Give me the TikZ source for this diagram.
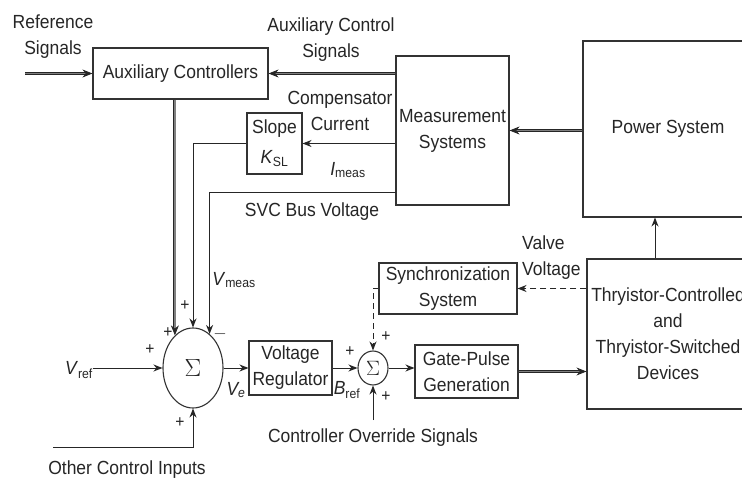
\documentclass[tikz,border=0pt]{standalone}
\usepackage{fontspec}
\setmainfont[FakeStretch=0.92]{Liberation Sans}
\usetikzlibrary{arrows.meta,shapes.geometric,calc}
\begin{document}
\begin{tikzpicture}[x=1pt,y=-1pt,
  every node/.style={text=black!85},
  font=\fontsize{19}{26}\selectfont,
  box/.style={draw=black!80, line width=1.1pt, inner sep=1pt, align=center},
  sumnode/.style={draw=black!80, line width=1.1pt, ellipse, inner sep=0pt},
  sig/.style={draw=black!85, line width=1pt, -{Stealth[length=9pt,width=7pt]}},
  dsig/.style={draw=black!85, line width=0.8pt, double=black!50, double distance=1.6pt, -{Stealth[length=10pt,width=8pt]}},
  dsh/.style={sig, dashed, dash pattern=on 6pt off 4pt},
  pm/.style={font=\fontsize{17}{17}\selectfont, inner sep=0pt},
  lbl/.style={align=center, inner sep=0pt}
]
\useasboundingbox[fill=white] (0,0) rectangle (742,481);

% blocks
\node[box, minimum width=175pt, minimum height=51pt] (aux) at (180.5,73.5) {Auxiliary Controllers};
\node[box, minimum width=55pt, minimum height=61pt, font=\fontsize{19}{30}\selectfont] (slope) at (274.5,143.5) {Slope\\\textit{K}\textsubscript{SL}};
\node[box, minimum width=113pt, minimum height=149pt] (meas) at (452.5,130.5) {Measurement\\Systems};
\node[box, minimum width=170pt, minimum height=176pt] (power) at (668,129) {Power System};
\node[box, minimum width=83pt, minimum height=54pt, inner sep=0pt] (vr) at (290.5,368) {Voltage\\Regulator};
\node[box, minimum width=138pt, minimum height=51pt, inner sep=0pt] (sync) at (448,288.5) {Synchronization\\System};
\node[box, minimum width=103pt, minimum height=53pt] (gate) at (466.5,371.5) {Gate-Pulse\\Generation};
\node[box, minimum width=162pt, minimum height=150pt] (thy) at (668,334) {Thryistor-Controlled\\and\\Thryistor-Switched\\Devices};
\node[sumnode, minimum width=60pt, minimum height=80pt, font=\fontsize{26}{26}\selectfont] (sum) at (193,368) {$\Sigma$};
\node[sumnode, minimum width=30pt, minimum height=34pt, font=\fontsize{22}{22}\selectfont] (sumb) at (373,368) {$\Sigma$};

% free ends
\coordinate (refin) at (25,73.5);
\coordinate (svcpt) at (396,193);
\coordinate (oci) at (53,447);
\coordinate (ovr) at (373,420);

% texts
\node[lbl] (reftxt) at (53,37) {Reference\\Signals};
\node[lbl] (acs) at (331,40) {Auxiliary Control\\Signals};
\node[lbl] (cc) at (340,111) {Compensator\\Current};
\node[lbl] (imeas) at (348,170) {\textit{I}\textsubscript{meas}};
\node[lbl] (svc) at (312,212) {SVC Bus Voltage};
\node[lbl] (vmeas) at (234,280) {\textit{V}\textsubscript{meas}};
\node[lbl, align=left, anchor=west] (valve) at (522,258) {Valve\\Voltage};
\node[lbl] (vref) at (79,370) {\textit{V}\textsubscript{ref}};
\node[lbl] (ve) at (236,390) {\textit{V\textsubscript{e}}};
\node[lbl] (bref) at (347,390) {\textit{B}\textsubscript{ref}};
\node[lbl] (oct) at (127,470) {Other Control Inputs};
\node[lbl] (cos) at (373,438) {Controller Override Signals};

% signs
\node[pm] (p1) at (185,306) {+};
\node[pm] (p2) at (168,333) {+};
\node[pm] (m1) at (220,334) {$-$};
\node[pm] (p3) at (150,350) {+};
\node[pm] (p4) at (180,423) {+};
\node[pm] (p5) at (350,352) {+};
\node[pm] (p6) at (386,337) {+};
\node[pm] (p7) at (386,397) {+};

% connectors
\draw[dsig] (refin) -- (aux.west);
\draw[dsig] (aux.east -| meas.west) -- (aux.east);
\draw[dsig] (meas.east -| power.west) -- (meas.east);
\draw[sig] (slope.east -| meas.west) -- (slope.east);
\draw[sig] (slope.west) -| (sum.north);
\draw[dsig] (sum.119.4 |- aux.south) -- (sum.119.4);
\draw[sig] (svcpt) -| (sum.64.7);
\draw[sig] (vref.east |- sum.west) -- (sum.west);
\draw[sig] (oci) -| (sum.south);
\draw[sig] (sum.east) -- (vr.west);
\draw[sig] (vr.east) -- (sumb.west);
\draw[sig] (sumb.east) -- (sumb.east -| gate.west);
\draw[dsig] (gate.east) -- (gate.east -| thy.west);
\draw[sig] ([xshift=-13pt]thy.north) -- ([xshift=-13pt]thy.north |- power.south);
\draw[dsh] (sync.east -| thy.west) -- (sync.east);
\draw[dsh] (sync.west) -| (sumb.north);
\draw[sig] (ovr) -- (sumb.south);
\end{tikzpicture}
\end{document}
